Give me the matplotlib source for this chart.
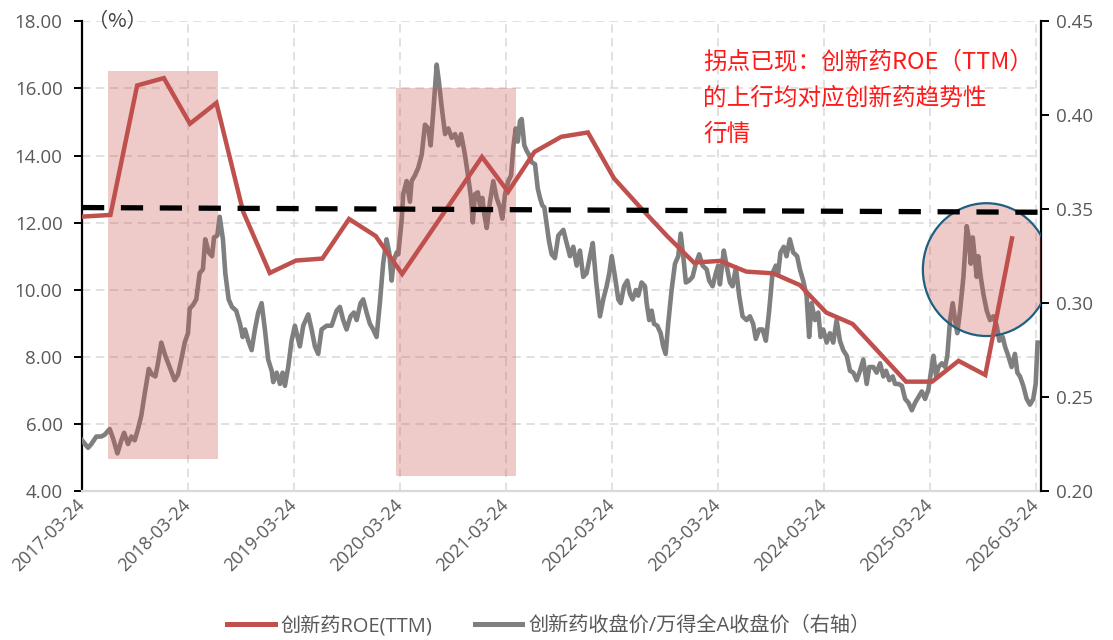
import matplotlib
matplotlib.use('Agg')
import matplotlib.pyplot as plt
import matplotlib.dates as mdates
from matplotlib.patches import Rectangle, Ellipse
from matplotlib.lines import Line2D
from matplotlib.ticker import FormatStrFormatter
import pandas as pd

plt.rcParams['font.family'] = ['Open Sans', 'Noto Sans CJK SC', 'DejaVu Sans']
plt.rcParams['lines.scale_dashes'] = False

# ---------------- data ----------------
roe_dates = ['2017-03-24', '2017-06-30', '2017-09-30', '2017-12-31', '2018-03-31',
             '2018-06-30', '2018-09-30', '2018-12-31', '2019-03-31', '2019-06-30',
             '2019-09-30', '2019-12-31', '2020-03-31', '2020-12-31', '2021-03-31',
             '2021-06-30', '2021-09-30', '2021-12-31', '2022-03-31', '2022-06-30',
             '2022-09-30', '2022-12-31', '2023-03-31', '2023-06-30', '2023-09-30',
             '2023-12-31', '2024-03-31', '2024-06-30', '2024-12-31', '2025-03-31',
             '2025-06-30', '2025-09-30', '2025-12-31']
roe_values = [12.18, 12.23, 16.09, 16.31, 14.95,
              15.57, 12.33, 10.50, 10.87, 10.93,
              12.11, 11.60, 10.47, 13.96, 12.92,
              14.11, 14.56, 14.69, 13.32, 12.45,
              11.60, 10.81, 10.86, 10.54, 10.49,
              10.14, 9.32, 8.98, 7.26, 7.26,
              7.88, 7.46, 11.53]

# relative price (innovative drug close / Wind All A close), dates as decimal years
ratio_years = [
    2017.225, 2017.282, 2017.313, 2017.360, 2017.407, 2017.439, 2017.486, 2017.518, 2017.559, 2017.596,
    2017.622, 2017.659, 2017.690, 2017.722, 2017.753, 2017.784, 2017.817, 2017.855, 2017.886, 2017.917,
    2017.942, 2017.973, 2018.011, 2018.052, 2018.099, 2018.131, 2018.162, 2018.194, 2018.225, 2018.241,
    2018.272, 2018.303, 2018.335, 2018.366, 2018.388, 2018.421, 2018.452, 2018.471, 2018.502, 2018.524,
    2018.555, 2018.577, 2018.609, 2018.640, 2018.680, 2018.716, 2018.741, 2018.763, 2018.794, 2018.826,
    2018.857, 2018.888, 2018.920, 2018.951, 2018.982, 2019.015, 2019.030, 2019.062, 2019.093, 2019.118,
    2019.140, 2019.171, 2019.203, 2019.234, 2019.281, 2019.313, 2019.360, 2019.392, 2019.423, 2019.454,
    2019.486, 2019.534, 2019.581, 2019.628, 2019.659, 2019.690, 2019.722, 2019.759, 2019.791, 2019.817,
    2019.854, 2019.879, 2019.911, 2019.942, 2019.973, 2020.005, 2020.036, 2020.067, 2020.099, 2020.124,
    2020.147, 2020.168, 2020.194, 2020.209, 2020.241, 2020.256, 2020.288, 2020.319, 2020.335, 2020.366,
    2020.397, 2020.430, 2020.461, 2020.492, 2020.514, 2020.539, 2020.571, 2020.592, 2020.619, 2020.650,
    2020.681, 2020.712, 2020.744, 2020.775, 2020.800, 2020.821, 2020.837, 2020.868, 2020.894, 2020.911,
    2020.932, 2020.958, 2020.979, 2021.001, 2021.020, 2021.042, 2021.073, 2021.104, 2021.136, 2021.167,
    2021.189, 2021.215, 2021.246, 2021.272, 2021.293, 2021.316, 2021.335, 2021.356, 2021.372, 2021.397,
    2021.420, 2021.442, 2021.467, 2021.498, 2021.524, 2021.545, 2021.567, 2021.586, 2021.608, 2021.630,
    2021.655, 2021.686, 2021.718, 2021.765, 2021.797, 2021.828, 2021.859, 2021.891, 2021.922, 2021.953,
    2021.985, 2022.017, 2022.043, 2022.074, 2022.111, 2022.142, 2022.174, 2022.199, 2022.222, 2022.253,
    2022.284, 2022.307, 2022.338, 2022.369, 2022.394, 2022.419, 2022.450, 2022.472, 2022.504, 2022.536,
    2022.552, 2022.576, 2022.599, 2022.621, 2022.652, 2022.684, 2022.708, 2022.731, 2022.755, 2022.787,
    2022.819, 2022.850, 2022.873, 2022.897, 2022.922, 2022.953, 2022.985, 2023.016, 2023.048, 2023.080,
    2023.118, 2023.142, 2023.174, 2023.205, 2023.227, 2023.243, 2023.280, 2023.306, 2023.338, 2023.363,
    2023.394, 2023.425, 2023.457, 2023.495, 2023.526, 2023.557, 2023.582, 2023.614, 2023.646, 2023.677,
    2023.708, 2023.740, 2023.771, 2023.793, 2023.815, 2023.846, 2023.872, 2023.903, 2023.935, 2023.972,
    2023.998, 2024.029, 2024.061, 2024.085, 2024.108, 2024.140, 2024.171, 2024.193, 2024.218, 2024.250,
    2024.281, 2024.312, 2024.344, 2024.375, 2024.406, 2024.439, 2024.470, 2024.501, 2024.533, 2024.564,
    2024.595, 2024.627, 2024.651, 2024.689, 2024.721, 2024.753, 2024.784, 2024.809, 2024.840, 2024.872,
    2024.894, 2024.925, 2024.958, 2024.989, 2025.020, 2025.052, 2025.083, 2025.114, 2025.146, 2025.177,
    2025.208, 2025.234, 2025.256, 2025.281, 2025.303, 2025.335, 2025.366, 2025.387, 2025.413, 2025.438,
    2025.460, 2025.481, 2025.507, 2025.539, 2025.570, 2025.589, 2025.608, 2025.627, 2025.648, 2025.664,
    2025.679, 2025.702, 2025.727, 2025.759, 2025.790, 2025.821, 2025.853, 2025.878, 2025.910, 2025.931,
    2025.962, 2025.994, 2026.025, 2026.048, 2026.073, 2026.104, 2026.136, 2026.167, 2026.198, 2026.221,
    2026.239]
ratio_values = [
    0.227, 0.223, 0.225, 0.229, 0.229, 0.230, 0.233, 0.228, 0.220, 0.227,
    0.231, 0.225, 0.229, 0.227, 0.233, 0.240, 0.252, 0.265, 0.262, 0.261,
    0.268, 0.279, 0.272, 0.266, 0.259, 0.262, 0.270, 0.279, 0.284, 0.297,
    0.299, 0.302, 0.316, 0.318, 0.334, 0.327, 0.325, 0.335, 0.336, 0.346,
    0.334, 0.316, 0.302, 0.298, 0.296, 0.289, 0.282, 0.286, 0.280, 0.275,
    0.286, 0.295, 0.300, 0.286, 0.270, 0.264, 0.258, 0.263, 0.257, 0.263,
    0.256, 0.266, 0.280, 0.288, 0.277, 0.288, 0.294, 0.286, 0.277, 0.273,
    0.286, 0.288, 0.288, 0.296, 0.298, 0.291, 0.286, 0.293, 0.295, 0.291,
    0.300, 0.302, 0.295, 0.289, 0.286, 0.282, 0.300, 0.321, 0.334, 0.327,
    0.312, 0.323, 0.327, 0.326, 0.344, 0.358, 0.365, 0.354, 0.365, 0.368,
    0.372, 0.379, 0.395, 0.393, 0.384, 0.402, 0.427, 0.418, 0.404, 0.390,
    0.393, 0.388, 0.390, 0.384, 0.390, 0.384, 0.379, 0.367, 0.356, 0.343,
    0.358, 0.359, 0.352, 0.356, 0.347, 0.340, 0.354, 0.365, 0.356, 0.351,
    0.345, 0.358, 0.365, 0.368, 0.383, 0.393, 0.386, 0.397, 0.398, 0.384,
    0.381, 0.379, 0.375, 0.374, 0.361, 0.356, 0.352, 0.351, 0.342, 0.333,
    0.326, 0.324, 0.336, 0.339, 0.332, 0.325, 0.330, 0.320, 0.328, 0.314,
    0.316, 0.325, 0.332, 0.312, 0.293, 0.302, 0.309, 0.316, 0.325, 0.314,
    0.302, 0.300, 0.309, 0.312, 0.305, 0.302, 0.307, 0.304, 0.311, 0.309,
    0.300, 0.291, 0.296, 0.289, 0.288, 0.284, 0.277, 0.273, 0.289, 0.307,
    0.321, 0.325, 0.337, 0.325, 0.311, 0.312, 0.314, 0.321, 0.326, 0.320,
    0.318, 0.312, 0.309, 0.316, 0.320, 0.310, 0.328, 0.320, 0.311, 0.309,
    0.319, 0.304, 0.293, 0.291, 0.293, 0.289, 0.281, 0.286, 0.286, 0.280,
    0.296, 0.316, 0.320, 0.316, 0.327, 0.330, 0.325, 0.334, 0.327, 0.325,
    0.318, 0.312, 0.304, 0.282, 0.300, 0.291, 0.295, 0.282, 0.286, 0.279,
    0.284, 0.279, 0.291, 0.280, 0.275, 0.272, 0.264, 0.263, 0.259, 0.264,
    0.270, 0.257, 0.266, 0.266, 0.263, 0.268, 0.261, 0.264, 0.259, 0.261,
    0.257, 0.257, 0.256, 0.249, 0.247, 0.243, 0.247, 0.250, 0.253, 0.249,
    0.254, 0.264, 0.272, 0.261, 0.266, 0.268, 0.266, 0.272, 0.291, 0.300,
    0.291, 0.284, 0.296, 0.314, 0.341, 0.335, 0.321, 0.335, 0.323, 0.314,
    0.325, 0.314, 0.305, 0.296, 0.291, 0.293, 0.288, 0.280, 0.282, 0.277,
    0.272, 0.266, 0.273, 0.263, 0.261, 0.256, 0.249, 0.246, 0.249, 0.257,
    0.279]

baseline_dates = ['2017-03-24', '2026-04-10']
baseline_values = [12.45, 12.31]

highlight_starts = ['2017-06-21', '2020-03-11']
highlight_ends = ['2018-07-07', '2021-04-27']
highlight_lows = [4.96, 4.45]
highlight_highs = [16.52, 16.02]

circle_center_date = '2025-10-04'
circle_center_value = 10.60
circle_width_days = 438
circle_height = 3.96

tick_dates = ['2017-03-24', '2018-03-24', '2019-03-24', '2020-03-24', '2021-03-24',
              '2022-03-24', '2023-03-24', '2024-03-24', '2025-03-24', '2026-03-24']
left_ticks = [4, 6, 8, 10, 12, 14, 16, 18]
right_ticks = [0.20, 0.25, 0.30, 0.35, 0.40, 0.45]

label_roe = '创新药ROE(TTM)'
label_ratio = '创新药收盘价/万得全A收盘价（右轴）'
note_text = '拐点已现：创新药ROE（TTM）\n的上行均对应创新药趋势性\n行情'


def dec_year_to_date(t):
    y = int(t)
    start = pd.Timestamp(year=y, month=1, day=1)
    end = pd.Timestamp(year=y + 1, month=1, day=1)
    return start + (end - start) * (t - y)


ratio_dates = [dec_year_to_date(t) for t in ratio_years]
roe_dt = pd.to_datetime(roe_dates)

# ---------------- styling ----------------
RED = '#C0504D'
GRAY = '#7F7F7F'
PINK = '#C8504D'
TICKC = '#595959'
GRIDC = '#D9D9D9'

W, H = 1113, 640
fig = plt.figure(figsize=(W / 100, H / 100), dpi=100)
ax = fig.add_axes([82 / W, 1 - 491 / H, (1041 - 82) / W, (491 - 21.4) / H])
ax2 = ax.twinx()
ax2.patch.set_visible(False)

x0 = pd.Timestamp('2017-03-24')
x1 = pd.Timestamp('2026-04-10')
ax.set_xlim(x0, x1)
ax.set_ylim(4, 18)
ax2.set_ylim(0.20, 0.45)

ax.set_xticks(pd.to_datetime(tick_dates))
ax.set_xticklabels(tick_dates)
ax.set_yticks(left_ticks)
ax.yaxis.set_major_formatter(FormatStrFormatter('%.2f'))
ax2.set_yticks(right_ticks)
ax2.yaxis.set_major_formatter(FormatStrFormatter('%.2f'))
ax.grid(True, color=GRIDC, linewidth=1.1, linestyle=(0, (6, 4)))
ax.set_axisbelow(True)

# all marks on ax2 so the z-order can interleave both scales
tl = ax.transData
ax2.plot(ratio_dates, ratio_values, color=GRAY, lw=3.3, zorder=2, solid_joinstyle='round')

for s, e, lo, hi in zip(highlight_starts, highlight_ends, highlight_lows, highlight_highs):
    xs = mdates.date2num(pd.Timestamp(s))
    xe = mdates.date2num(pd.Timestamp(e))
    ax2.add_patch(Rectangle((xs, lo), xe - xs, hi - lo, transform=tl,
                            facecolor=PINK, alpha=0.30, edgecolor='none', zorder=3))

cx = mdates.date2num(pd.Timestamp(circle_center_date))
ax2.add_patch(Ellipse((cx, circle_center_value), circle_width_days, circle_height, transform=tl,
                      facecolor=(0.784, 0.314, 0.302, 0.30), edgecolor='#1F5F80', lw=1.6, zorder=3))

ax2.plot(mdates.date2num(roe_dt), roe_values, color=RED, lw=3.2, transform=tl, zorder=4,
         solid_joinstyle='miter')
ax2.plot(mdates.date2num(pd.to_datetime(baseline_dates)), baseline_values, color='black',
         lw=3.8, transform=tl, zorder=5, dashes=(16, 12))

# spines
for sp in ['top', 'right']:
    ax.spines[sp].set_visible(False)
ax.spines['left'].set_color('black')
ax.spines['left'].set_linewidth(1.6)
ax.spines['bottom'].set_color(GRIDC)
ax.spines['bottom'].set_linewidth(1.6)
for sp in ['top', 'left', 'bottom']:
    ax2.spines[sp].set_visible(False)
ax2.spines['right'].set_color('black')
ax2.spines['right'].set_linewidth(1.6)

ax.tick_params(axis='y', direction='out', length=6, width=1.4, colors='black',
               labelcolor=TICKC, labelsize=13.5, pad=8)
ax.tick_params(axis='x', length=0, labelcolor=TICKC, labelsize=13, pad=8)
ax2.tick_params(axis='y', direction='out', length=6, width=1.4, colors='black',
                labelcolor=TICKC, labelsize=13.5, pad=5)
for lab in ax.get_xticklabels():
    lab.set_rotation(45)
    lab.set_ha('right')
    lab.set_va('center')
    lab.set_rotation_mode('anchor')

fig.text(88 / W, 1 - 21.5 / H, '（%）', ha='left', va='center', fontsize=14.5, color='#404040',
         family=['Noto Sans CJK SC', 'DejaVu Sans'])

fig.text(703 / W, 1 - 50 / H, note_text, ha='left', va='top', fontsize=17, color='#FF1A1A',
         family=['Noto Sans CJK SC', 'DejaVu Sans'], linespacing=1.74, fontweight='light')

handles = [Line2D([], [], color=RED, lw=3.6), Line2D([], [], color=GRAY, lw=3.6)]
leg = fig.legend(handles, [label_roe, label_ratio], loc='center', bbox_to_anchor=(0.493, 0.022),
                 ncol=2, frameon=False, fontsize=14.5, handlelength=2.35, handletextpad=0.3,
                 columnspacing=2.1)
for t in leg.get_texts():
    t.set_color(TICKC)

fig.savefig('out.png', dpi=100)
